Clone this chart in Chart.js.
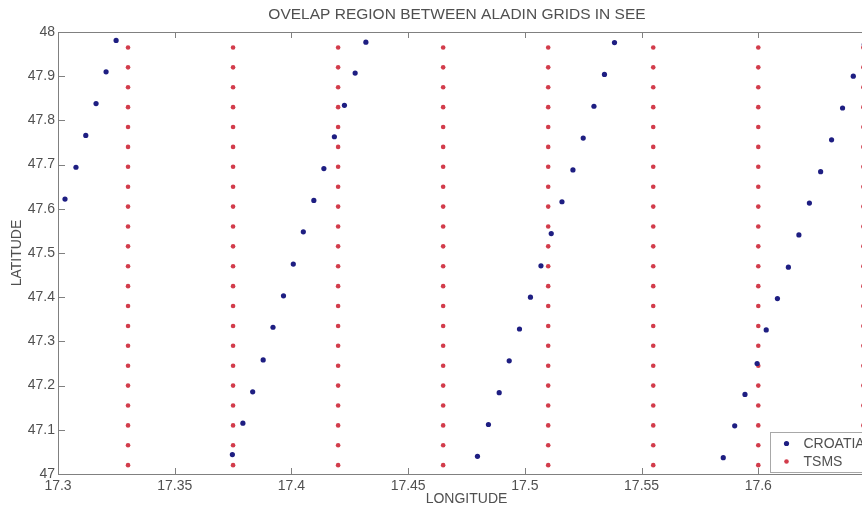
<!DOCTYPE html>
<html>
<head>
<meta charset="utf-8">
<script src="https://cdn.jsdelivr.net/npm/chart.js@4"></script>
<style>
html, body { margin: 0; padding: 0; background: #fff; overflow: hidden; }
#wrap { width: 910px; height: 508px; }
</style>
</head>
<body>
<div id="wrap"><canvas id="grid-chart" width="910" height="508"></canvas></div>
<script>
// CROATIA grid points
const croatiaLon = [
    17.3030, 17.3077, 17.3119, 17.3163, 17.3206, 17.3249,
    17.3747, 17.3792, 17.3834, 17.3879, 17.3921, 17.3966, 17.4008,
    17.4051, 17.4096, 17.4139, 17.4184, 17.4227, 17.4273, 17.4319,
    17.4797, 17.4844, 17.4890, 17.4933, 17.4977, 17.5024, 17.5069,
    17.5113, 17.5159, 17.5206, 17.5250, 17.5296, 17.5341, 17.5384,
    17.5850, 17.5899, 17.5943, 17.5995, 17.6034, 17.6082, 17.6129,
    17.6174, 17.6219, 17.6267, 17.6314, 17.6361, 17.6407, 17.6454
];
const croatiaLat = [
    47.622, 47.694, 47.766, 47.838, 47.910, 47.981,
    47.044, 47.115, 47.186, 47.258, 47.332, 47.403, 47.475,
    47.548, 47.619, 47.691, 47.763, 47.834, 47.907, 47.977,
    47.040, 47.112, 47.184, 47.256, 47.328, 47.400, 47.471,
    47.544, 47.616, 47.688, 47.760, 47.832, 47.904, 47.976,
    47.037, 47.109, 47.180, 47.250, 47.326, 47.397, 47.468,
    47.541, 47.613, 47.684, 47.756, 47.828, 47.900, 47.972
];

// TSMS grid: columns and rows
const tsmsLon = [17.33, 17.375, 17.42, 17.465, 17.51, 17.555, 17.6, 17.645];
const tsmsLat = [
    47.02, 47.065, 47.11, 47.155, 47.2, 47.245, 47.29, 47.335, 47.38, 47.425, 47.47,
    47.515, 47.56, 47.605, 47.65, 47.695, 47.74, 47.785, 47.83, 47.875, 47.92, 47.965
];

const xTicks = [17.3, 17.35, 17.4, 17.45, 17.5, 17.55, 17.6];
const yTicks = [47, 47.1, 47.2, 47.3, 47.4, 47.5, 47.6, 47.7, 47.8, 47.9, 48];

const titleText = 'OVELAP REGION BETWEEN ALADIN GRIDS IN SEE';

const croatiaPoints = croatiaLon.map((lon, i) => ({x: lon, y: croatiaLat[i]}));
const tsmsPoints = [];
tsmsLon.forEach(lon => {
    tsmsLat.forEach(lat => tsmsPoints.push({x: lon, y: lat}));
});

const BLUE = '#1e1e82';
const RED = '#d23c4b';
const FONT = '"Liberation Sans", Arial, sans-serif';
const TEXT = '#505050';

// matlab style box, inward ticks, title and legend
const matlabAxes = {
    id: 'matlabAxes',
    beforeDatasetsDraw(chart) {
        const {ctx, chartArea: a, scales: {x, y}} = chart;
        ctx.save();
        ctx.strokeStyle = '#808080';
        ctx.lineWidth = 1;
        ctx.beginPath();
        ctx.rect(Math.round(a.left) + 0.5, Math.round(a.top) + 0.5,
            Math.round(a.right - a.left), Math.round(a.bottom - a.top));
        x.ticks.forEach(t => {
            const px = Math.round(x.getPixelForValue(t.value)) + 0.5;
            ctx.moveTo(px, a.bottom); ctx.lineTo(px, a.bottom - 6);
            ctx.moveTo(px, a.top); ctx.lineTo(px, a.top + 6);
        });
        y.ticks.forEach(t => {
            const py = Math.round(y.getPixelForValue(t.value)) + 0.5;
            ctx.moveTo(a.left, py); ctx.lineTo(a.left + 7, py);
            ctx.moveTo(a.right, py); ctx.lineTo(a.right - 7, py);
        });
        ctx.stroke();

        // title
        ctx.fillStyle = TEXT;
        ctx.font = '15.5px ' + FONT;
        ctx.textAlign = 'center';
        ctx.textBaseline = 'middle';
        ctx.fillText(titleText, 457, 15);
        ctx.restore();
    },
    afterDraw(chart) {
        const {ctx, chartArea: a} = chart;
        const bx = Math.round(a.right - 105) + 0.5;
        const by = Math.round(a.bottom - 42) + 0.5;
        ctx.save();
        ctx.fillStyle = '#fff';
        ctx.strokeStyle = '#a8a8a8';
        ctx.lineWidth = 1;
        ctx.fillRect(bx, by, 100, 40);
        ctx.strokeRect(bx, by, 100, 40);
        const items = [['CROATIA', BLUE, 2.6], ['TSMS', RED, 2.3]];
        ctx.font = '14px ' + FONT;
        ctx.textBaseline = 'middle';
        items.forEach((it, i) => {
            const cy = by + 11 + i * 18;
            ctx.fillStyle = it[1];
            ctx.beginPath();
            ctx.arc(bx + 16, cy, it[2], 0, Math.PI * 2);
            ctx.fill();
            ctx.fillStyle = TEXT;
            ctx.fillText(it[0], bx + 33, cy + 1);
        });
        ctx.restore();
    }
};

new Chart(document.getElementById('grid-chart'), {
    type: 'scatter',
    data: {
        datasets: [{
            label: 'CROATIA',
            data: croatiaPoints,
            backgroundColor: BLUE,
            borderWidth: 0,
            pointRadius: 2.6
        }, {
            label: 'TSMS',
            data: tsmsPoints,
            backgroundColor: RED,
            borderWidth: 0,
            pointRadius: 2.3
        }]
    },
    options: {
        responsive: false,
        animation: false,
        layout: {padding: {left: 4, right: 35, top: 32, bottom: 0}},
        plugins: {
            legend: {display: false},
            tooltip: {enabled: false},
            title: {display: false}
        },
        scales: {
            x: {
                type: 'linear',
                min: 17.3,
                max: 17.65,
                grid: {display: false, drawTicks: false},
                border: {display: false},
                afterBuildTicks: s => { s.ticks = xTicks.map(v => ({value: v})); },
                afterFit: s => { s.height = 34; },
                ticks: {
                    padding: 4,
                    color: TEXT,
                    font: {family: FONT, size: 14},
                    maxRotation: 0,
                    autoSkip: false,
                    callback: v => String(Math.round(v * 100) / 100)
                },
                title: {
                    display: true,
                    text: 'LONGITUDE',
                    color: TEXT,
                    font: {family: FONT, size: 14},
                    padding: {top: 0, bottom: 0}
                }
            },
            y: {
                type: 'linear',
                min: 47,
                max: 48,
                grid: {display: false, drawTicks: false},
                border: {display: false},
                afterBuildTicks: s => { s.ticks = yTicks.map(v => ({value: v})); },
                afterFit: s => { s.width = 54; },
                ticks: {
                    padding: 3,
                    color: TEXT,
                    font: {family: FONT, size: 14},
                    autoSkip: false,
                    callback: v => String(Math.round(v * 10) / 10)
                },
                title: {
                    display: true,
                    text: 'LATITUDE',
                    color: TEXT,
                    font: {family: FONT, size: 14},
                    padding: {top: 5, bottom: 0}
                }
            }
        }
    },
    plugins: [matlabAxes]
});
</script>
</body>
</html>
